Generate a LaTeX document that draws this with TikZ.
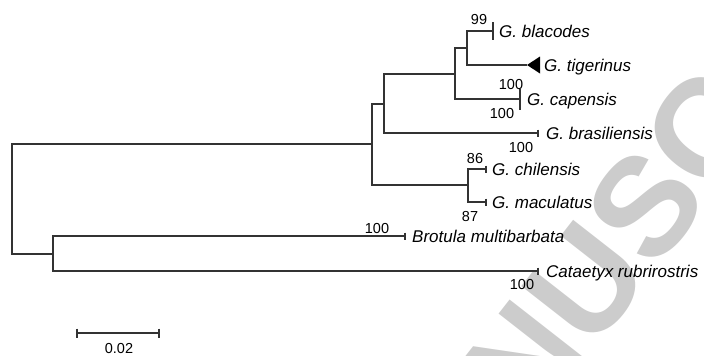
\documentclass[tikz,border=0pt]{standalone}
\usepackage{fontspec}
\setmainfont{Liberation Sans}
\begin{document}
\begin{tikzpicture}[x=1pt,y=-1pt,
  branch/.style={draw=black!80,line width=1.2pt},
  species/.style={anchor=base west,inner sep=0pt,font=\fontsize{17}{17}\selectfont\itshape},
  boot/.style={anchor=base,inner sep=0pt,font=\fontsize{14.5}{14.5}\selectfont},
  wmark/.style={text=black!20,inner sep=0pt,font=\fontsize{140}{140}\selectfont\bfseries}]
\useasboundingbox (0,0) rectangle (704,356);
% watermark
\begin{scope}
\clip (0,0) rectangle (704,356);
\node[wmark,rotate=52] (wm) at (614,246) {NUSC};
\end{scope}
% internal nodes
\coordinate (root) at (12,199);
\coordinate (ing) at (372,144);
\coordinate (out) at (53,254);
\coordinate (nB) at (384,104);
\coordinate (nC) at (468,185);
\coordinate (nD) at (455,74);
\coordinate (nE) at (467,48);
% tips
\coordinate (tBla) at (493,31);
\coordinate (tTig) at (527,65);
\coordinate (tCap) at (520,99);
\coordinate (tBra) at (538,133);
\coordinate (tChi) at (486,169);
\coordinate (tMac) at (486,202);
\coordinate (tBro) at (405,236);
\coordinate (tCat) at (538,271);
% branches
\draw[branch] (root) |- (ing);
\draw[branch] (root) |- (out);
\draw[branch] (out) |- (tBro);
\draw[branch] (out) |- (tCat);
\draw[branch] (ing) |- (nB);
\draw[branch] (ing) |- (nC);
\draw[branch] (nB) |- (nD);
\draw[branch] (nB) |- (tBra);
\draw[branch] (nD) |- (nE);
\draw[branch] (nD) |- (tCap);
\draw[branch] (nE) |- (tBla);
\draw[branch] (nE) |- (tTig);
\draw[branch] (nC) |- (tChi);
\draw[branch] (nC) |- (tMac);
% tip marks
\foreach \t in {tBra,tChi,tMac,tBro,tCat}
  \draw[branch] (\t) ++(0,-3.5) -- ++(0,7);
\draw[branch] (tBla) ++(0,-9) -- ++(0,18);
\draw[branch] (tCap) ++(0,-10.5) -- ++(0,21);
\fill[black] (tTig) -- ++(13,-8.5) -- ++(0,17) -- cycle;
% species labels
\node[species] (lBla) at (499,37.2) {G. blacodes};
\node[species] (lTig) at (544,71.2) {G. tigerinus};
\node[species] (lCap) at (527,105.2) {G. capensis};
\node[species] (lBra) at (546,139.2) {G. brasiliensis};
\node[species] (lChi) at (492,175.2) {G. chilensis};
\node[species] (lMac) at (492,208.2) {G. maculatus};
\node[species] (lBro) at (412,242.2) {Brotula multibarbata};
\node[species] (lCat) at (546,277.2) {Cataetyx rubrirostris};
% bootstrap values
\node[boot] (b1) at (479,24) {99};
\node[boot] (b2) at (511,89) {100};
\node[boot] (b3) at (502,118) {100};
\node[boot] (b4) at (521,152) {100};
\node[boot] (b5) at (475,163) {86};
\node[boot] (b6) at (470,221) {87};
\node[boot] (b7) at (377,233) {100};
\node[boot] (b8) at (522,289) {100};
% scale bar
\coordinate (sL) at (77,333);
\coordinate (sR) at (159,333);
\draw[branch] (sL) -- (sR);
\draw[branch] (sL) ++(0,-4.5) -- ++(0,9);
\draw[branch] (sR) ++(0,-4.5) -- ++(0,9);
\node[boot] (sc) at (119,353) {0.02};
\end{tikzpicture}
\end{document}
